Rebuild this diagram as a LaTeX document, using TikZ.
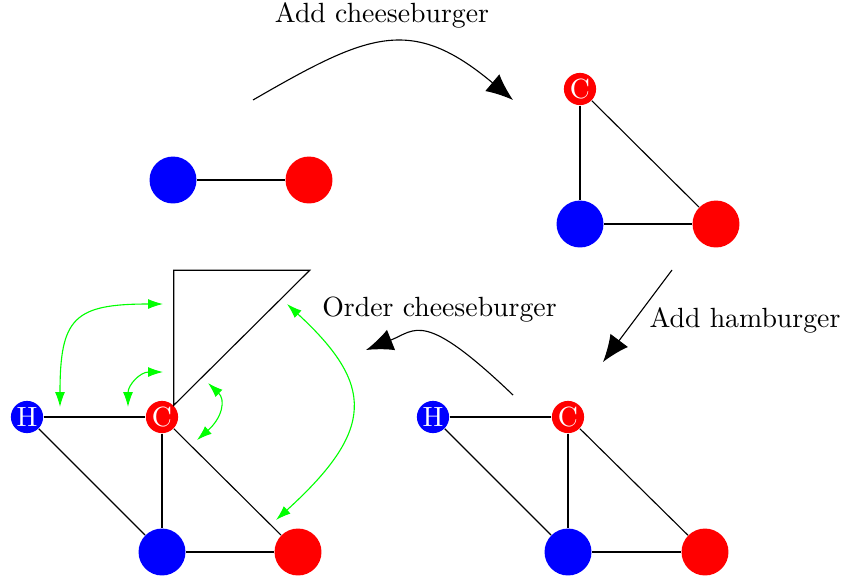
\documentclass[tikz,border=0pt]{standalone}
\usetikzlibrary{arrows.meta}
\begin{document}
\begin{tikzpicture}[x=0.36pt,y=-0.36pt,
  big/.style={circle,minimum size=16.9pt,inner sep=0pt},
  small/.style={circle,minimum size=11.6pt,inner sep=0pt,text=white},
  bl/.style={fill=blue},
  rd/.style={fill=red},
  edge/.style={draw=black,line width=0.4pt},
  lbl/.style={anchor=base,inner sep=0pt},
  bigarrow/.style={draw=black,-{Latex[length=9.7pt,width=7.9pt]}},
  garrow/.style={draw=green,{Latex[length=5.4pt,width=3.6pt]}-{Latex[length=5.4pt,width=3.6pt]}},
]
\useasboundingbox (0,0) rectangle (846,581);

% top-left graph
\node[big,bl] (a1) at (173,180) {};
\node[big,rd] (a2) at (309,180) {};
\draw[edge] (a1) -- (a2);

% top-right graph
\node[small,rd] (b0) at (580,89) {C};
\node[big,bl] (b1) at (580,224) {};
\node[big,rd] (b2) at (716,224) {};
\draw[edge] (b0) -- (b1);
\draw[edge] (b0) -- (b2);
\draw[edge] (b1) -- (b2);

% bottom-right graph
\node[small,bl] (c0) at (433,417) {H};
\node[small,rd] (c1) at (568,417) {C};
\node[big,bl] (c2) at (568,552) {};
\node[big,rd] (c3) at (705,552) {};
\draw[edge] (c0) -- (c1);
\draw[edge] (c0) -- (c2);
\draw[edge] (c1) -- (c2);
\draw[edge] (c1) -- (c3);
\draw[edge] (c2) -- (c3);

% bottom-left graph
\node[small,bl] (d0) at (27,417) {H};
\node[small,rd] (d1) at (162,417) {C};
\node[big,bl] (d2) at (162,552) {};
\node[big,rd] (d3) at (298,552) {};
\draw[edge] (d0) -- (d1);
\draw[edge] (d0) -- (d2);
\draw[edge] (d1) -- (d2);
\draw[edge] (d1) -- (d3);
\draw[edge] (d2) -- (d3);
\draw[edge] (d1.north east) -- ++(0,-135) -- ++(136,0) -- cycle;

% green arrows
\coordinate (g1a) at (60,407);
\coordinate (g1b) at (163,304);
\coordinate (g2a) at (128,407);
\coordinate (g2b) at (163,372);
\coordinate (g3a) at (208,383);
\coordinate (g3b) at (197,440);
\coordinate (g4a) at (287,304);
\coordinate (g4b) at (276,520);
\draw[garrow] (g1a) .. controls (60,318) and (74,304) .. (g1b);
\draw[garrow] (g2a) .. controls (128,385) and (140,372) .. (g2b);
\draw[garrow] (g3a) .. controls (226,400) and (222,418) .. (g3b);
\draw[garrow] (g4a) .. controls (375,385) and (375,430) .. (g4b);

% transition arrows
\coordinate (t1a) at (253,100);
\coordinate (t1b) at (513,100);
\draw[bigarrow] (t1a) .. controls (368,33.5) and (411,14.5) .. (t1b);
\node[lbl] (l1) at (382,22) {Add cheeseburger};

\coordinate (t2a) at (672,270);
\coordinate (t2b) at (603,362);
\draw[bigarrow] (t2a) -- (t2b);
\node[lbl] (l2) at (745,327) {Add hamburger};

\coordinate (t3a) at (513,395);
\coordinate (t3b) at (366,350);
\draw[bigarrow] (t3a) .. controls (423,309) and (416,330) .. (t3b);
\node[lbl] (l3) at (439.5,316) {Order cheeseburger};
\end{tikzpicture}
\end{document}
